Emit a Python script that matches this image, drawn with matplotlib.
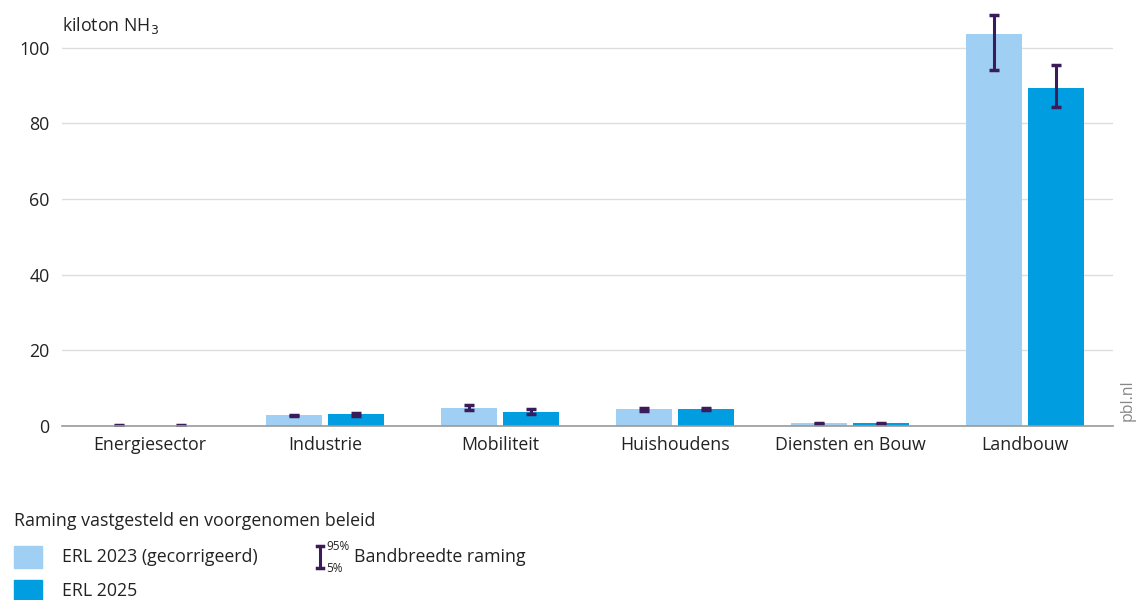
import matplotlib
matplotlib.use("Agg")
import matplotlib.pyplot as plt
from matplotlib.patches import Rectangle
from matplotlib.lines import Line2D
import numpy as np

plt.rcParams['font.family'] = ['Open Sans', 'DejaVu Sans']

categories = ["Energiesector", "Industrie", "Mobiliteit", "Huishoudens", "Diensten en Bouw", "Landbouw"]
erl2023 = [0.1, 2.9, 4.7, 4.4, 0.7, 103.7]
erl2023_lo = [0.0, 2.6, 4.2, 4.0, 0.4, 94.2]
erl2023_hi = [0.3, 3.0, 5.6, 4.8, 0.9, 108.7]
erl2025 = [0.1, 3.1, 3.7, 4.5, 0.7, 89.4]
erl2025_lo = [0.0, 2.6, 3.1, 4.2, 0.4, 84.4]
erl2025_hi = [0.3, 3.5, 4.4, 4.7, 0.9, 95.5]
yticks = [0, 20, 40, 60, 80, 100]

c23 = "#9fcff3"
c25 = "#009ee0"
cerr = "#3b1c5a"
fs = 12.8

fig = plt.figure(figsize=(11.37, 6.0), dpi=100)
ax = fig.add_axes([62/1137, 1-426/600, (1113-62)/1137, (426-10)/600])

x = np.arange(len(categories))
w = 0.32
off = 0.177
ax.bar(x - off, erl2023, width=w, color=c23, zorder=2)
ax.bar(x + off, erl2025, width=w, color=c25, zorder=2)
for xs, lo, hi in [(x - off, erl2023_lo, erl2023_hi), (x + off, erl2025_lo, erl2025_hi)]:
    lo = np.array(lo); hi = np.array(hi)
    ax.errorbar(xs, (lo + hi) / 2, yerr=[(hi - lo) / 2, (hi - lo) / 2], fmt='none',
                ecolor=cerr, elinewidth=2.2, capsize=3.5, capthick=2.5, zorder=3)

ax.set_xlim(-0.5, 5.5)
ax.set_ylim(0, 110)
ax.set_yticks(yticks)
ax.set_xticks(x)
ax.set_xticklabels(categories, fontsize=fs, color="#222222")
ax.tick_params(axis='y', labelsize=fs, length=0, pad=9, labelcolor="#222222")
ax.tick_params(axis='x', length=0, pad=7)
ax.grid(axis='y', color="#dddddd", linewidth=1, zorder=0)
for s in ['top', 'right', 'left']:
    ax.spines[s].set_visible(False)
ax.spines['bottom'].set_color("#999999")
ax.spines['bottom'].set_linewidth(1.2)
ax.spines['bottom'].set_zorder(4)

fig.text(62/1137, 1-25/600, "kiloton NH$_3$", fontsize=fs, color="#222222", va='center', ha='left')
fig.text(1128/1137, 1-400/600, "pbl.nl", fontsize=11.5, color="#888888", rotation=90, va='center', ha='center')

# Legend
fig.text(14/1137, 1-521/600, "Raming vastgesteld en voorgenomen beleid", fontsize=fs, color="#222222", va='center')
fig.patches.append(Rectangle((14/1137, 1-568/600), 28/1137, 22/600, transform=fig.transFigure, color=c23))
fig.text(62/1137, 1-557/600, "ERL 2023 (gecorrigeerd)", fontsize=fs, color="#222222", va='center')
fig.patches.append(Rectangle((14/1137, 1-600/600), 28/1137, 20/600, transform=fig.transFigure, color=c25))
fig.text(62/1137, 1-591/600, "ERL 2025", fontsize=fs, color="#222222", va='center')
xi = 320/1137
fig.add_artist(Line2D([xi, xi], [1-546/600, 1-568/600], transform=fig.transFigure, color=cerr, lw=2.2))
fig.add_artist(Line2D([xi-3/1137, xi+3/1137], [1-546/600, 1-546/600], transform=fig.transFigure, color=cerr, lw=2.5))
fig.add_artist(Line2D([xi-3/1137, xi+3/1137], [1-568/600, 1-568/600], transform=fig.transFigure, color=cerr, lw=2.5))
fig.text(326/1137, 1-546/600, "95%", fontsize=8.5, color="#222222", va='center')
fig.text(326/1137, 1-569/600, "5%", fontsize=8.5, color="#222222", va='center')
fig.text(354/1137, 1-557/600, "Bandbreedte raming", fontsize=fs, color="#222222", va='center')

fig.savefig("out.png", dpi=100)
